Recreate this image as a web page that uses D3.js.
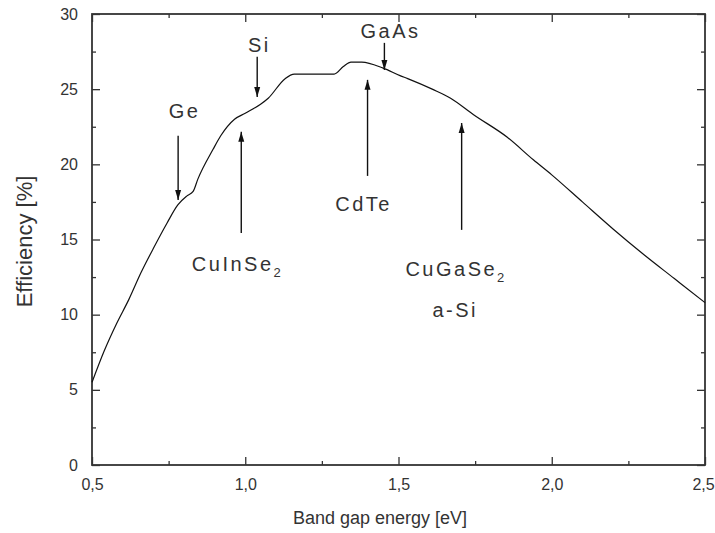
<!DOCTYPE html>
<html>
<head>
<meta charset="utf-8">
<script src="https://cdn.jsdelivr.net/npm/d3@7"></script>
<style>
  body { margin: 0; background: #fff; }
  svg { display: block; }
  text { font-family: "Liberation Sans", Arial, sans-serif; fill: #333; }
</style>
</head>
<body>
<svg id="chart" width="715" height="533"></svg>
<script>
// band gap energy [eV] vs max efficiency [%]
var energy = [0.50, 0.54, 0.58, 0.62, 0.66, 0.70, 0.745, 0.78, 0.81, 0.83, 0.845, 0.895,
  0.92, 0.965, 1.00, 1.05, 1.075, 1.13, 1.16, 1.29, 1.32, 1.345, 1.38, 1.45, 1.505,
  1.53, 1.61, 1.67, 1.745, 1.855, 1.94, 2.00, 2.10, 2.20, 2.30, 2.40, 2.50];
var efficiency = [5.5, 7.6, 9.4, 11.0, 12.8, 14.4, 16.1, 17.3, 17.9, 18.2, 19.0, 21.0,
  21.9, 23.0, 23.4, 24.0, 24.4, 25.7, 26.0, 26.0, 26.5, 26.8, 26.8, 26.4, 25.9,
  25.7, 25.0, 24.4, 23.3, 21.8, 20.3, 19.3, 17.5, 15.7, 14.0, 12.4, 10.8];

// material markers: label, arrow energy, arrow tail / tip efficiency, label position
var matNames = ["Ge", "Si", "CuInSe", "CdTe", "GaAs", "CuGaSe"];
var matSub = ["", "", "2", "", "", "2"];
var matE = [0.781, 1.039, 0.987, 1.399, 1.454, 1.706];
var matTail = [21.9, 27.15, 15.44, 19.23, 28.08, 15.64];
var matTip = [17.63, 24.48, 22.16, 25.62, 26.28, 22.75];
var labelE = [0.802, 1.046, 0.975, 1.386, 1.474, 1.688];
var labelEff = [23.1, 27.48, 12.9, 16.9, 28.41, 12.57];
var extraLabel = {text: "a-Si", e: 1.685, eff: 9.85};

var xTicks = [0.5, 1.0, 1.5, 2.0, 2.5];
var yTicks = [0, 5, 10, 15, 20, 25, 30];

var W = 715, H = 533;
var lPad = 92, rPad = 10, tPad = 14, bPad = 68;
var pw = W - lPad - rPad, ph = H - tPad - bPad;

var svg = d3.select("#chart");

var x = d3.scaleLinear().domain([0.5, 2.5]).range([lPad, lPad + pw]);
var y = d3.scaleLinear().domain([0, 30]).range([tPad + ph, tPad]);

var fmtX = function(d) { return d3.format(".1f")(d).replace(".", ","); };

var drawAxis = function(axis, tx, ty) {
  var g = svg.append("g")
    .attr("class", "axis")
    .attr("transform", "translate(" + tx + "," + ty + ")")
    .call(axis);
  g.select(".domain").remove();
  g.selectAll("line").attr("stroke", "#333").attr("stroke-width", 1.3);
  g.selectAll("text").style("font-size", "16px").attr("fill", "#333");
  return g;
};

// minor ticks (inward, all four sides)
var xMinor = d3.range(0.75, 2.5, 0.5);
var yMinor = d3.range(2.5, 30, 5);

var xb = drawAxis(d3.axisBottom(x).tickValues(xTicks).tickFormat(fmtX).tickSize(-8).tickPadding(14), 0, tPad + ph);
xb.selectAll("text").attr("dy", "0.71em");
xb.selectAll("text").filter(function(d) { return d === 2.5; }).attr("dx", -2); // keep inside the window
drawAxis(d3.axisBottom(x).tickValues(xMinor).tickFormat("").tickSize(-4), 0, tPad + ph);
drawAxis(d3.axisTop(x).tickValues(xTicks).tickFormat("").tickSize(-8), 0, tPad);
drawAxis(d3.axisTop(x).tickValues(xMinor).tickFormat("").tickSize(-4), 0, tPad);

drawAxis(d3.axisLeft(y).tickValues(yTicks).tickFormat(d3.format("d")).tickSize(-8).tickPadding(14), lPad, 0);
drawAxis(d3.axisLeft(y).tickValues(yMinor).tickFormat("").tickSize(-4), lPad, 0);
drawAxis(d3.axisRight(y).tickValues(yTicks).tickFormat("").tickSize(-8), lPad + pw, 0);
drawAxis(d3.axisRight(y).tickValues(yMinor).tickFormat("").tickSize(-4), lPad + pw, 0);

// frame
svg.append("rect")
  .attr("x", lPad).attr("y", tPad)
  .attr("width", pw).attr("height", ph)
  .attr("fill", "none").attr("stroke", "#333").attr("stroke-width", 1.8);

// axis titles
svg.append("text")
  .attr("x", 380).attr("y", 524)
  .attr("text-anchor", "middle")
  .style("font-size", "18px")
  .text("Band gap energy [eV]");
svg.append("text")
  .attr("transform", "translate(32," + (tPad + ph / 2 + 2) + ") rotate(-90)")
  .attr("text-anchor", "middle")
  .style("font-size", "22px")
  .text("Efficiency [%]");

// the curve
var pts = energy.map(function(e, i) { return {x: e, y: efficiency[i]}; });
var line = d3.line()
  .x(function(d) { return x(d.x); })
  .y(function(d) { return y(d.y); })
  .curve(d3.curveMonotoneX);
svg.append("path")
  .datum(pts)
  .attr("d", line)
  .attr("fill", "none")
  .attr("stroke", "#111")
  .attr("stroke-width", 1.2);

// arrows
svg.append("defs").append("marker")
  .attr("id", "head")
  .attr("viewBox", "0 0 10 10")
  .attr("refX", 10).attr("refY", 5)
  .attr("markerWidth", 10).attr("markerHeight", 10)
  .attr("markerUnits", "userSpaceOnUse")
  .attr("orient", "auto")
  .append("path")
  .attr("d", "M0,2 L10,5 L0,8 Z")
  .attr("fill", "#111");

svg.selectAll(".arrow")
  .data(matNames)
  .enter().append("line")
  .attr("class", "arrow")
  .attr("x1", function(d, i) { return x(matE[i]); })
  .attr("x2", function(d, i) { return x(matE[i]); })
  .attr("y1", function(d, i) { return y(matTail[i]); })
  .attr("y2", function(d, i) { return y(matTip[i]); })
  .attr("stroke", "#111")
  .attr("stroke-width", 1.4)
  .attr("marker-end", "url(#head)");

// labels
var lab = svg.selectAll(".mat")
  .data(matNames)
  .enter().append("text")
  .attr("class", "mat")
  .attr("x", function(d, i) { return x(labelE[i]); })
  .attr("y", function(d, i) { return y(labelEff[i]); })
  .attr("text-anchor", "middle")
  .style("font-size", "20px")
  .style("letter-spacing", "2.5px");
lab.append("tspan").text(function(d) { return d; });
lab.append("tspan")
  .attr("dy", 6)
  .style("font-size", "13px")
  .text(function(d, i) { return matSub[i]; });

svg.append("text")
  .attr("x", x(extraLabel.e)).attr("y", y(extraLabel.eff))
  .attr("text-anchor", "middle")
  .style("font-size", "20px")
  .style("letter-spacing", "2.5px")
  .text(extraLabel.text);
</script>
</body>
</html>
